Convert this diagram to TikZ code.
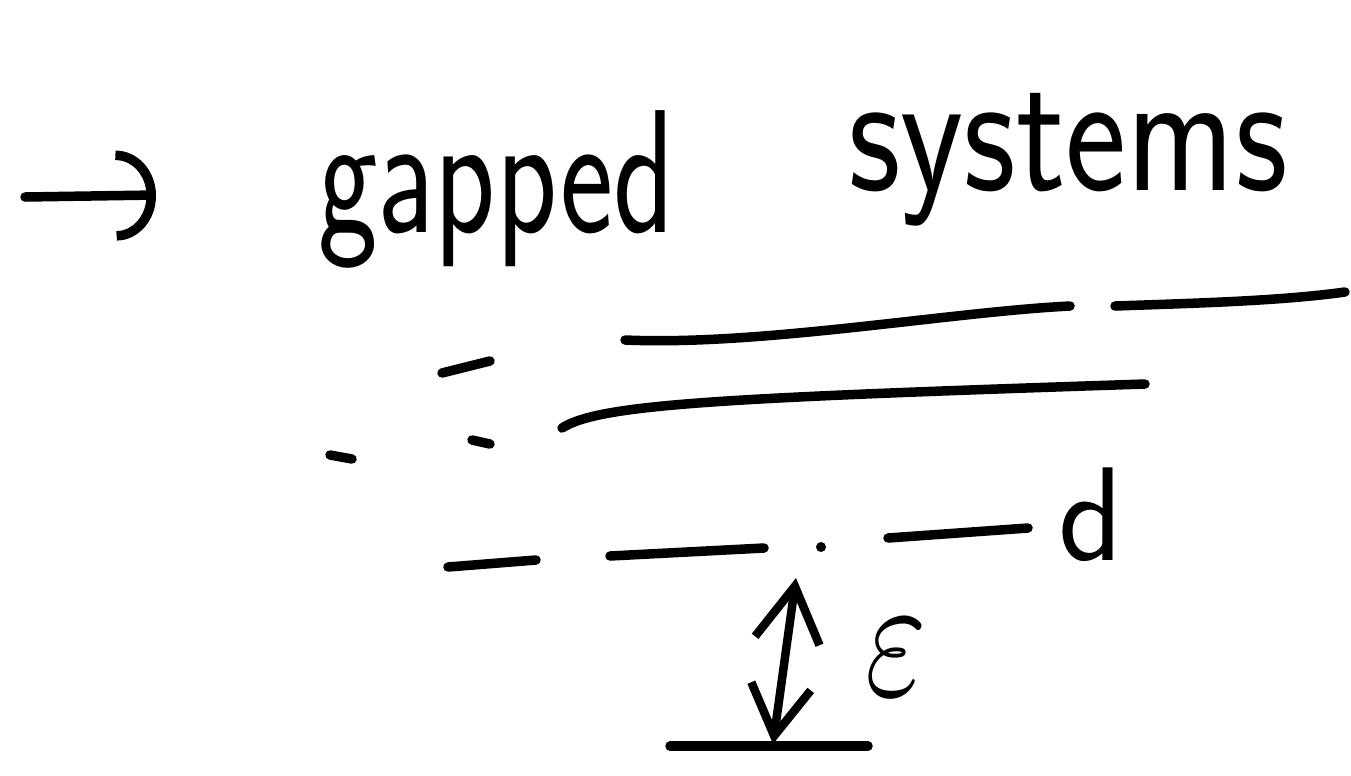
\documentclass[tikz,border=0pt]{standalone}
\usepackage{graphicx}
\usetikzlibrary{arrows.meta}
\tikzset{
  hand/.style={line width=0.19cm, line cap=round, line join=round},
  word/.style={inner sep=0pt, anchor=base west, font=\sffamily\fontsize{100}{100}\selectfont},
}
\begin{document}
\begin{tikzpicture}[x=0.02cm, y=-0.02cm]
    \useasboundingbox (0,0) rectangle (1351,775);

    % 1. Mui ten va tieu de
    \coordinate (tail) at (25,197);
    \coordinate (head) at (156,195);
    \draw[hand, -{Arc Barb[length=0.8cm, width=1.8cm]}] (tail) -- (head);
    \node[word] (gapped) at (318,232) {\scalebox{0.72}[1]{gapped}};
    \node[word] (systems) at (848,190) {\scalebox{0.83}[1]{systems}};

    % 2. Cac muc nang luong phia tren
    \draw[hand] (442,373) -- (490,361);
    \draw[hand] (625,340) .. controls (760,346) and (950,312) .. (1070,306);
    \draw[hand] (1115,306) .. controls (1200,303) and (1280,301) .. (1345,292);
    \draw[hand] (330,455) -- (352,459);
    \draw[hand] (472,440) -- (490,444);
    \draw[hand] (562,428) .. controls (600,404) and (720,398) .. (1145,384);

    % 3. Muc d
    \draw[hand] (448,567) -- (536,560);
    \draw[hand] (610,556) -- (764,548);
    \fill (821,547) circle (5);
    \draw[hand] (888,538) -- (1028,528);
    \node[word, font=\sffamily\fontsize{76}{76}\selectfont] (dlabel) at (1058,560) {d};

    % 4. Khe nang luong epsilon
    \coordinate (epstop) at (796,578);
    \coordinate (epsbot) at (773,744);
    \draw[hand] (670,746) -- (868,746);
    \draw[hand, line width=0.17cm, {Straight Barb[length=1.0cm, width=1.2cm]}-{Straight Barb[length=1.1cm, width=1.3cm]}] (epsbot) -- (epstop);
    \node[inner sep=0pt] (eps) at (896,658) {\scalebox{7.5}[10]{$\varepsilon$}};

\end{tikzpicture}
\end{document}
